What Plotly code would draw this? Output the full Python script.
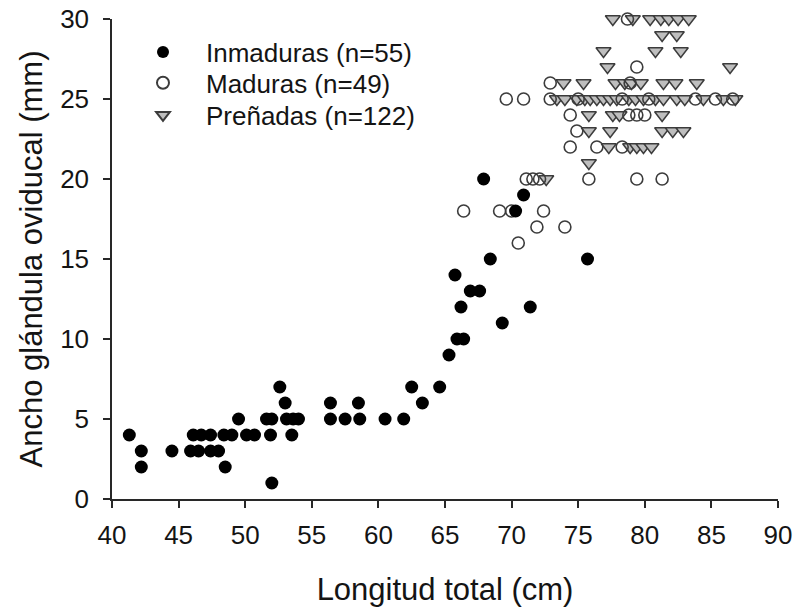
"""
scatter: oviducal gland width vs total length, by maturity stage
"""
import plotly.graph_objects as go

# Inmaduras (filled black circles)
inm_x = [41.3, 42.2, 42.2, 44.5, 45.9, 46.5, 47.4, 48.0, 46.1, 46.7, 47.4, 48.4, 49.0, 50.1,
         50.7, 51.9, 53.5, 48.5, 49.5, 51.6, 52.0, 53.1, 53.6, 54.0, 52.0, 53.0, 52.6, 56.4,
         56.4, 57.5, 58.5, 58.6, 60.5, 61.9, 62.5, 63.3, 64.6, 65.3, 65.9, 66.4, 66.2, 65.75,
         66.9, 67.6, 68.4, 69.3, 71.4, 70.3, 67.9, 70.9, 75.7]
inm_y = [4, 3, 2, 3, 3, 3, 3, 3, 4, 4, 4, 4, 4, 4,
         4, 4, 4, 2, 5, 5, 5, 5, 5, 5, 1, 6, 7, 6,
         5, 5, 6, 5, 5, 5, 7, 6, 7, 9, 10, 10, 12, 14,
         13, 13, 15, 11, 12, 18, 20, 19, 15]

# Maduras (open circles)
mad_x = [78.7, 79.4, 72.9, 78.9,
         69.6, 70.9, 72.9, 75.0, 78.3, 80.3, 83.8, 85.3, 86.6,
         74.4, 78.8, 79.4, 80.0, 74.9,
         74.4, 76.4, 78.3,
         71.1, 71.6, 72.1, 75.8, 79.4, 81.3,
         66.4, 69.1, 70.0, 72.4, 71.9, 74.0, 70.5]
mad_y = [30, 27, 26, 26,
         25, 25, 25, 25, 25, 25, 25, 25, 25,
         24, 24, 24, 24, 23,
         22, 22, 22,
         20, 20, 20, 20, 20, 20,
         18, 18, 18, 18, 17, 17, 16]

# Preñadas (grey down triangles)
pre_x = [77.6, 79.1, 80.4, 81.2, 81.8, 82.5, 83.3,
         81.3, 82.4,
         76.9, 80.8, 82.7,
         77.2, 86.4,
         73.9, 75.4, 77.8, 78.5, 79.0, 79.7, 81.4, 82.3, 83.9,
         73.4, 74.0, 74.9, 75.5, 75.9, 76.4, 76.9, 77.4, 77.9, 78.8, 79.3, 79.9, 80.8,
         81.4, 82.4, 83.0, 84.4, 85.9, 86.8,
         75.8, 77.6, 78.1, 81.3,
         75.8, 77.4, 81.3, 82.1, 82.9,
         77.3, 78.9, 79.4, 79.9, 80.5,
         75.8, 72.6]
pre_y = [30, 30, 30, 30, 30, 30, 30,
         29, 29,
         28, 28, 28,
         27, 27,
         26, 26, 26, 26, 26, 26, 26, 26, 26,
         25, 25, 25, 25, 25, 25, 25, 25, 25, 25, 25, 25, 25,
         25, 25, 25, 25, 25, 25,
         24, 24, 24, 24,
         23, 23, 23, 23, 23,
         22, 22, 22, 22, 22,
         21, 20]

labels = ['Inmaduras (n=55)', 'Maduras (n=49)', 'Preñadas (n=122)']

font_family = 'Arial, Liberation Sans, sans-serif'
edge = 'rgb(60, 60, 60)'
axis_col = 'rgb(40, 40, 40)'

fig = go.Figure()

fig.add_trace(go.Scatter(x = pre_x, y = pre_y,
                         mode = 'markers',
                         name = labels[2],
                         legend = 'legend3',
                         cliponaxis = False,
                         marker = dict(symbol = 'triangle-down', size = 13,
                                       color = 'rgb(190, 190, 190)',
                                       line = dict(color = edge, width = 1.5))))
fig.add_trace(go.Scatter(x = mad_x, y = mad_y,
                         mode = 'markers',
                         name = labels[1],
                         legend = 'legend2',
                         cliponaxis = False,
                         marker = dict(symbol = 'circle-open', size = 12,
                                       color = edge, line = dict(width = 1.6))))
fig.add_trace(go.Scatter(x = inm_x, y = inm_y,
                         mode = 'markers',
                         name = labels[0],
                         legend = 'legend',
                         cliponaxis = False,
                         marker = dict(symbol = 'circle', size = 13, color = 'black',
                                       line = dict(width = 0))))

# one legend per entry so the rows can sit as close as in the original
leg = dict(x = 0.012, xanchor = 'left', yanchor = 'middle', bgcolor = 'rgba(0,0,0,0)',
           font = dict(size = 26), itemwidth = 76, itemsizing = 'constant')

fig.update_layout(
    width = 794,
    height = 607,
    autosize = False,
    margin = dict(l = 112, r = 16, t = 19, b = 108),
    plot_bgcolor = 'white',
    paper_bgcolor = 'white',
    font = dict(family = font_family, size = 26, color = 'rgb(20, 20, 20)'),
    showlegend = True,
    legend = dict(leg, y = 0.931),
    legend2 = dict(leg, y = 0.867),
    legend3 = dict(leg, y = 0.80),
)

fig.update_xaxes(range = [40, 90], dtick = 5, showgrid = False, zeroline = False,
                 showline = True, linewidth = 1.5, linecolor = axis_col, automargin = False,
                 ticks = 'outside', ticklen = 7, tickwidth = 1.5, tickcolor = axis_col,
                 ticklabelstandoff = 5, ticklabeloverflow = 'allow',
                 title = dict(text = 'Longitud total (cm)', standoff = 36))
fig.update_yaxes(range = [0, 30], dtick = 5, showgrid = False, zeroline = False,
                 showline = True, linewidth = 1.5, linecolor = axis_col, automargin = False,
                 ticks = 'outside', ticklen = 7, tickwidth = 1.5, tickcolor = axis_col,
                 ticklabelstandoff = 9, ticklabeloverflow = 'allow',
                 title = dict(text = 'Ancho glándula oviducal (mm)', standoff = 8))

# drop the default body margin so the 794x607 figure fills the window exactly
fig.write_html("out.html", config = {'displayModeBar': False},
               post_script = "document.body.style.margin = '0';")
